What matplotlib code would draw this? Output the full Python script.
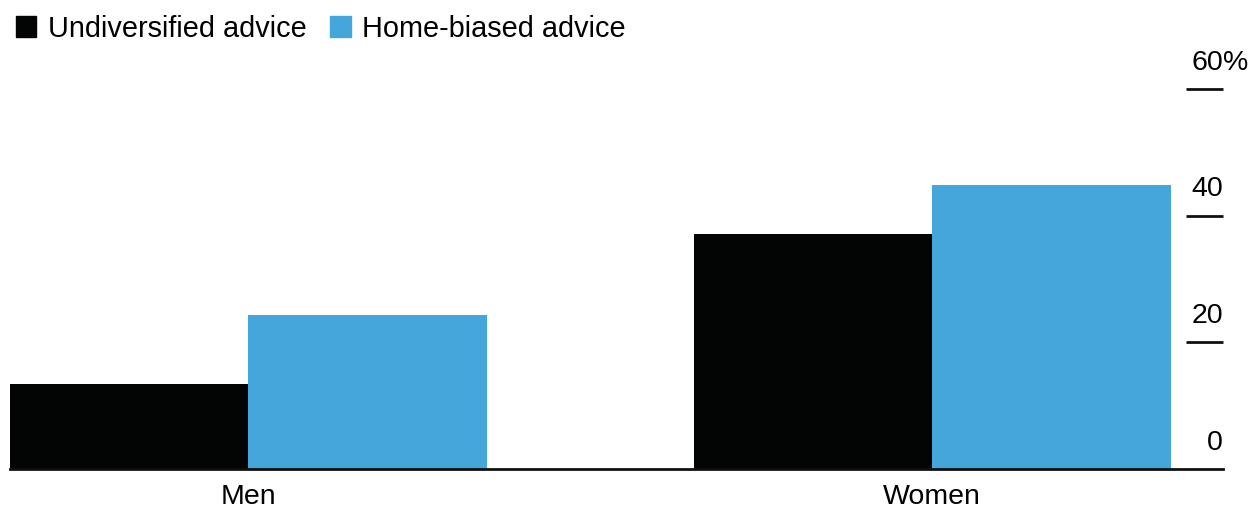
import numpy as np
import matplotlib
matplotlib.use("Agg")
import matplotlib.pyplot as plt
from matplotlib.patches import Patch

plt.rcParams['font.family'] = ['Liberation Sans', 'DejaVu Sans']

# === DATEN ===
categories = ['Men', 'Women']
series_names = ['Undiversified advice', 'Home-biased advice']
undiversified = [13.4, 37.1]
home_biased = [24.3, 44.8]
yticks = [0, 20, 40, 60]
ytick_labels = ['0', '20', '40', '60']

colors = ['#030404', '#45a6dc']

# === FIGUR ===
W, H = 1252, 508
fig = plt.figure(figsize=(W / 100, H / 100), dpi=100)
ax = fig.add_axes([10 / W, 1 - 469 / H, (1223 - 10) / W, (469 - 89) / H])

x = np.arange(len(categories))
bw = 0.3487
ax.bar(x - bw / 2, undiversified, width=bw, color=colors[0], linewidth=0)
ax.bar(x + bw / 2, home_biased, width=bw, color=colors[1], linewidth=0)

ax.set_xlim(-bw, 1 + (1223 - 932) / 684)
ax.set_ylim(0, 60)

for s in ['top', 'right', 'left']:
    ax.spines[s].set_visible(False)
ax.spines['bottom'].set_linewidth(2)
ax.spines['bottom'].set_color('#111111')

ax.set_yticks([])
ax.set_xticks(x)
ax.set_xticklabels(categories, fontsize=20.5)
ax.tick_params(axis='x', length=0, pad=11)

# rechte Achsenbeschriftung mit kurzen Strichen
xmax = ax.get_xlim()[1]
tick_len = (1223 - 1186) / 684
for v, lab in zip(yticks, ytick_labels):
    if v > 0:
        ax.plot([xmax - tick_len, xmax], [v, v], color='#111111', lw=2,
                solid_capstyle='butt', clip_on=False)
    ax.annotate(lab, (xmax, v), xytext=(0, 14), textcoords='offset points',
                ha='right', va='baseline', fontsize=20.5)
    if v == 60:
        ax.annotate('%', (xmax, v), xytext=(0, 14), textcoords='offset points',
                    ha='left', va='baseline', fontsize=20.5)

handles = [Patch(color=c) for c in colors]
fig.legend(handles, series_names, loc='upper left', bbox_to_anchor=(4 / W, 1 - 3 / H),
           ncol=2, frameon=False, fontsize=20.8, handlelength=0.72, handleheight=0.72,
           handletextpad=0.4, columnspacing=0.8, borderaxespad=0)

fig.savefig('out.png', dpi=100)
